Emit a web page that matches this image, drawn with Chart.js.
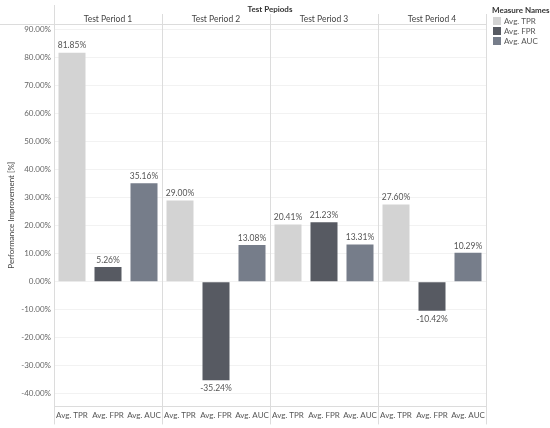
<!DOCTYPE html>
<html>
<head>
<meta charset="utf-8">
<script src="https://cdn.jsdelivr.net/npm/chart.js@4"></script>
<style>
  html, body { margin: 0; padding: 0; background: #fff; }
  #wrap { width: 550px; height: 428px; }
</style>
</head>
<body>
<div id="wrap"><canvas id="chart"></canvas></div>
<script>
const periods = ['Test Period 1', 'Test Period 2', 'Test Period 3', 'Test Period 4'];
const measures = ['Avg. TPR', 'Avg. FPR', 'Avg. AUC'];
const tprValues = [81.85, 29.00, 20.41, 27.60];
const fprValues = [5.26, -35.24, 21.23, -10.42];
const aucValues = [35.16, 13.08, 13.31, 10.29];
const measureColors = ['#d3d3d3', '#575a62', '#767d8a'];

const FONT = 'Lato, "Open Sans", sans-serif';

// x categories: 3 measures per period
const labels = [];
periods.forEach(() => measures.forEach(m => labels.push(m)));

function spread(values, idx) {
  const out = [];
  values.forEach(v => {
    for (let k = 0; k < 3; k++) out.push(k === idx ? v : null);
  });
  return out;
}

const seriesValues = [tprValues, fprValues, aucValues];

const panelPlugin = {
  id: 'panels',
  beforeDatasetsDraw(chart) {
    const { ctx, chartArea: a, scales: { x } } = chart;
    ctx.save();
    ctx.strokeStyle = '#dcdcdc';
    ctx.lineWidth = 1;
    // header line
    ctx.beginPath();
    ctx.moveTo(0, a.top + 0.5);
    ctx.lineTo(a.right, a.top + 0.5);
    ctx.stroke();
    // left axis line up to top
    ctx.beginPath();
    ctx.moveTo(a.left + 0.5, 5);
    ctx.lineTo(a.left + 0.5, a.bottom + 18);
    ctx.stroke();
    // panel dividers
    for (let p = 1; p <= periods.length; p++) {
      const xr = Math.round((x.getPixelForValue(p * 3 - 1) + x.getPixelForValue(p * 3)) / 2);
      const xx = p === periods.length ? Math.round(a.right) : xr;
      ctx.beginPath();
      ctx.moveTo(xx + 0.5, 14);
      ctx.lineTo(xx + 0.5, a.bottom + 18);
      ctx.stroke();
    }
    ctx.restore();
  },
  afterDraw(chart) {
    const { ctx, chartArea: a, scales: { x } } = chart;
    ctx.save();
    ctx.textAlign = 'center';
    ctx.textBaseline = 'middle';
    ctx.fillStyle = '#333';
    ctx.font = 'bold 8px ' + FONT;
    ctx.fillText('Test Pepiods', (a.left + a.right) / 2, 9);
    ctx.font = '8.5px ' + FONT;
    ctx.fillStyle = '#444';
    periods.forEach((p, i) => {
      const cx = x.getPixelForValue(i * 3 + 1);
      ctx.fillText(p, cx, 19);
    });
    // legend
    ctx.textAlign = 'left';
    ctx.fillStyle = '#333';
    ctx.font = 'bold 8px ' + FONT;
    ctx.fillText('Measure Names', 492, 10);
    ctx.font = '8px ' + FONT;
    chart.data.datasets.forEach((ds, i) => {
      const y = 21 + i * 10;
      ctx.fillStyle = ds.backgroundColor;
      ctx.fillRect(493, y - 4, 8, 8);
      ctx.fillStyle = '#555';
      ctx.fillText(ds.label, 504, y);
    });
    // value labels
    ctx.textAlign = 'center';
    ctx.fillStyle = '#555';
    ctx.font = '8.5px ' + FONT;
    chart.data.datasets.forEach((ds, i) => {
      chart.getDatasetMeta(i).data.forEach((bar, j) => {
        const v = ds.data[j];
        if (v === null) return;
        const txt = v.toFixed(2) + '%';
        if (v >= 0) ctx.fillText(txt, bar.x, bar.y - 7);
        else ctx.fillText(txt, bar.x, bar.y + 8);
      });
    });
    ctx.restore();
  }
};

new Chart(document.getElementById('chart'), {
  type: 'bar',
  data: {
    labels: labels,
    datasets: measures.map((m, i) => ({
      label: m,
      data: spread(seriesValues[i], i),
      backgroundColor: measureColors[i],
      barPercentage: 0.75,
      categoryPercentage: 1.0,
      grouped: false,
    })),
  },
  options: {
    responsive: true,
    maintainAspectRatio: false,
    animation: false,
    layout: { padding: { top: 24, right: 64, left: 0, bottom: 4 } },
    plugins: {
      legend: { display: false },
      tooltip: { enabled: false },
    },
    scales: {
      x: {
        grid: { display: false, drawTicks: false },
        border: { display: true, color: '#dcdcdc' },
        ticks: { color: '#555', font: { family: FONT, size: 8 }, maxRotation: 0, autoSkip: false, padding: 4 },
      },
      y: {
        min: -44.6,
        max: 92.1,
        afterFit(scale) { scale.width = 54; },
        grid: { color: '#f2f2f2', drawTicks: false },
        border: { display: false },
        ticks: {
          stepSize: 10,
          includeBounds: false,
          color: '#666',
          font: { family: FONT, size: 8 },
          padding: 3,
          callback: v => v.toFixed(2) + '%',
        },
        title: {
          display: true,
          text: 'Performance Improvement [%]',
          color: '#444',
          font: { family: FONT, size: 8 },
          padding: { top: 7, bottom: 2 },
        },
      },
    },
  },
  plugins: [panelPlugin],
});
</script>
</body>
</html>
